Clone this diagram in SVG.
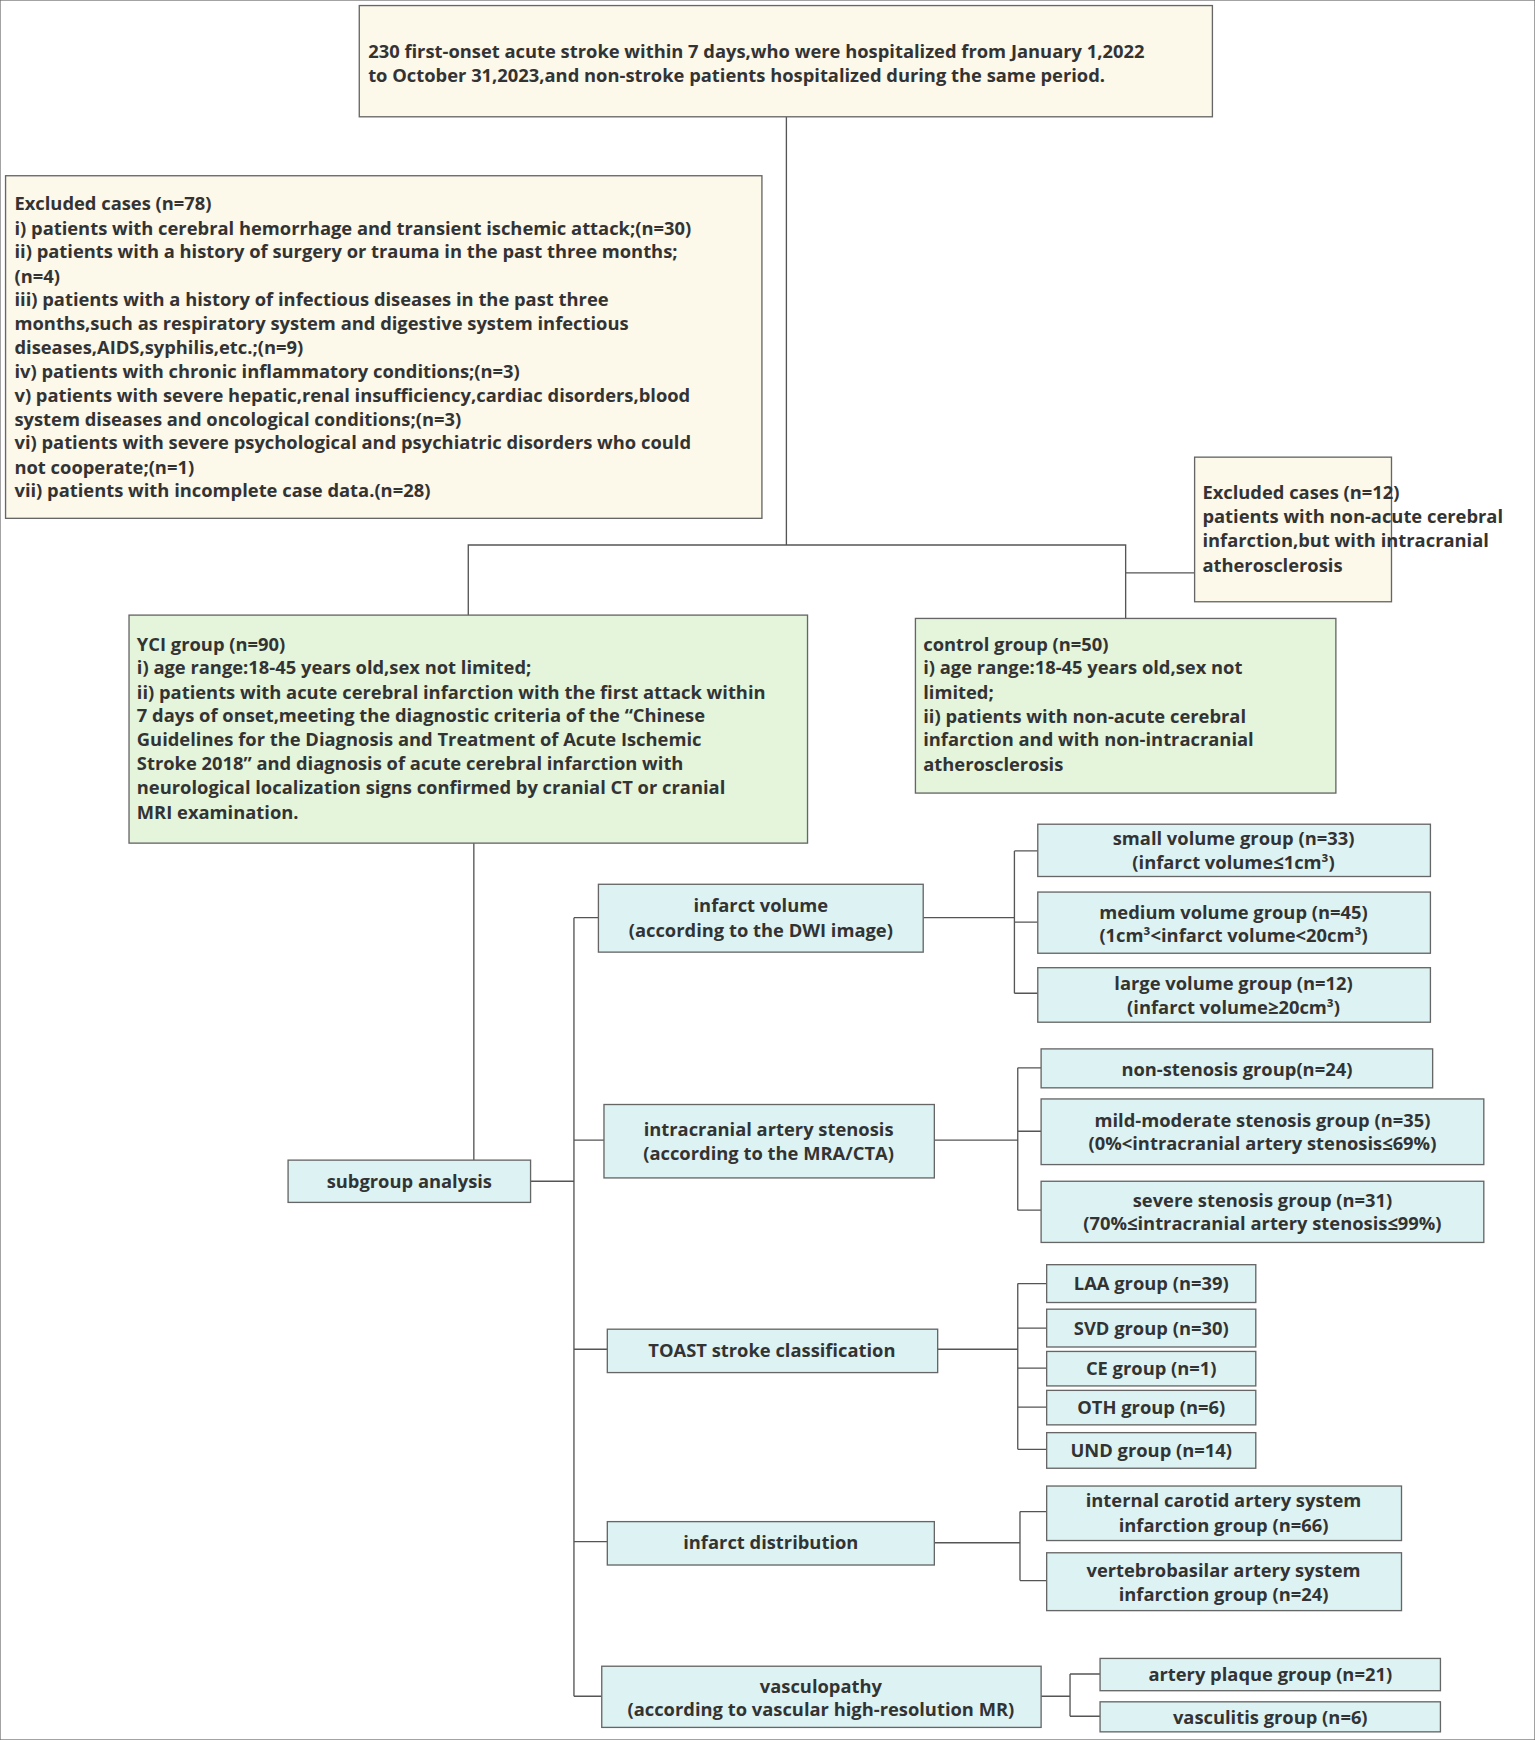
<svg xmlns="http://www.w3.org/2000/svg" width="1535" height="1740" viewBox="0 0 1535 1740">
<style>
text{font-family:"Open Sans","Noto Sans",sans-serif;font-weight:bold;font-size:16.5px;fill:#333}
.c{text-anchor:middle}
rect{stroke:#666;stroke-width:1.2}
.y{fill:#fcf8ea}.g{fill:#e4f5dc}.b{fill:#ddf3f3}
#connectors path{fill:none;stroke:#555;stroke-width:1.2}
</style>
<rect width="1535" height="1740" fill="#fff" stroke="none"/>
<g transform="scale(1.1123)">
<g id="connectors">
<path d="M707,105V490M421,555V490H1012V556M1012,515H1074"/>
<path d="M426,758V1043M477,1062H516M516,825V1525M516,825H538M516,1025H543M516,1213H546M516,1386H546M516,1525H541"/>
<path d="M830,825H912M912,765V893M912,765H933M912,829H933M912,893H933"/>
<path d="M840,1025H915M915,960V1088M915,960H936M915,1017H936M915,1088H936"/>
<path d="M843,1213H915M915,1154V1303M915,1154H941M915,1194H941M915,1230H941M915,1265H941M915,1303H941"/>
<path d="M840,1387H917M917,1359V1421M917,1359H941M917,1421H941"/>
<path d="M936,1525H962M962,1505V1543M962,1505H989M962,1543H989"/>
</g>
<g id="top"><rect class="y" x="323" y="5" width="767" height="100"/>
<text x="331" y="52">230 first-onset acute stroke within 7 days,who were hospitalized from January 1,2022</text>
<text x="331" y="74">to October 31,2023,and non-stroke patients hospitalized during the same period.</text></g>
<g id="excl78"><rect class="y" x="5" y="158" width="680" height="308"/>
<text x="13" y="189">Excluded cases (n=78)</text>
<text x="13" y="211">i) patients with cerebral hemorrhage and transient ischemic attack;(n=30)</text>
<text x="13" y="232">ii) patients with a history of surgery or trauma in the past three months;</text>
<text x="13" y="254">(n=4)</text>
<text x="13" y="275">iii) patients with a history of infectious diseases in the past three</text>
<text x="13" y="297">months,such as respiratory system and digestive system infectious</text>
<text x="13" y="318">diseases,AIDS,syphilis,etc.;(n=9)</text>
<text x="13" y="340">iv) patients with chronic inflammatory conditions;(n=3)</text>
<text x="13" y="361">v) patients with severe hepatic,renal insufficiency,cardiac disorders,blood</text>
<text x="13" y="383">system diseases and oncological conditions;(n=3)</text>
<text x="13" y="404">vi) patients with severe psychological and psychiatric disorders who could</text>
<text x="13" y="426">not cooperate;(n=1)</text>
<text x="13" y="447">vii) patients with incomplete case data.(n=28)</text></g>
<g id="excl12"><rect class="y" x="1074" y="411" width="177" height="130"/>
<text x="1081" y="449">Excluded cases (n=12)</text>
<text x="1081" y="470">patients with non-acute cerebral</text>
<text x="1081" y="492">infarction,but with intracranial</text>
<text x="1081" y="514">atherosclerosis</text></g>
<g id="yci"><rect class="g" x="116" y="553" width="610" height="205"/>
<text x="123" y="585">YCI group (n=90)</text>
<text x="123" y="606">i) age range:18-45 years old,sex not limited;</text>
<text x="123" y="628">ii) patients with acute cerebral infarction with the first attack within</text>
<text x="123" y="649">7 days of onset,meeting the diagnostic criteria of the “Chinese</text>
<text x="123" y="671">Guidelines for the Diagnosis and Treatment of Acute Ischemic</text>
<text x="123" y="692">Stroke 2018” and diagnosis of acute cerebral infarction with</text>
<text x="123" y="714">neurological localization signs confirmed by cranial CT or cranial</text>
<text x="123" y="736">MRI examination.</text></g>
<g id="control"><rect class="g" x="823" y="556" width="378" height="157"/>
<text x="830" y="585">control group (n=50)</text>
<text x="830" y="606">i) age range:18-45 years old,sex not</text>
<text x="830" y="628">limited;</text>
<text x="830" y="650">ii) patients with non-acute cerebral</text>
<text x="830" y="671">infarction  and with non-intracranial</text>
<text x="830" y="693">atherosclerosis</text></g>
<g id="subgroup"><rect class="b" x="259" y="1043" width="218" height="38"/><text class="c" x="368" y="1068">subgroup analysis</text></g>
<g id="volume"><rect class="b" x="538" y="795" width="292" height="61"/><text class="c" x="684" y="820">infarct volume</text><text class="c" x="684" y="842">(according to the DWI image)</text></g>
<g id="stenosis"><rect class="b" x="543" y="993" width="297" height="66"/><text class="c" x="691" y="1021">intracranial artery stenosis</text><text class="c" x="691" y="1043">(according to the MRA/CTA)</text></g>
<g id="toast"><rect class="b" x="546" y="1195" width="297" height="39"/><text class="c" x="694" y="1220">TOAST stroke classification</text></g>
<g id="distribution"><rect class="b" x="546" y="1368" width="294" height="39"/><text class="c" x="693" y="1393">infarct distribution</text></g>
<g id="vasculopathy"><rect class="b" x="541" y="1498" width="395" height="55"/><text class="c" x="738" y="1522">vasculopathy</text><text class="c" x="738" y="1543">(according to vascular high-resolution MR)</text></g>
<g id="v1"><rect class="b" x="933" y="741" width="353" height="47"/><text class="c" x="1109" y="760">small volume group (n=33)</text><text class="c" x="1109" y="781">(infarct volume≤1cm³)</text></g>
<g id="v2"><rect class="b" x="933" y="802" width="353" height="55"/><text class="c" x="1109" y="826">medium volume group (n=45)</text><text class="c" x="1109" y="847">(1cm³&lt;infarct volume&lt;20cm³)</text></g>
<g id="v3"><rect class="b" x="933" y="870" width="353" height="49"/><text class="c" x="1109" y="890">large volume group (n=12)</text><text class="c" x="1109" y="912">(infarct volume≥20cm³)</text></g>
<g id="s1"><rect class="b" x="936" y="943" width="352" height="35"/><text class="c" x="1112" y="967">non-stenosis group(n=24)</text></g>
<g id="s2"><rect class="b" x="936" y="988" width="398" height="59"/><text class="c" x="1135" y="1013">mild-moderate stenosis group (n=35)</text><text class="c" x="1135" y="1034">(0%&lt;intracranial artery stenosis≤69%)</text></g>
<g id="s3"><rect class="b" x="936" y="1062" width="398" height="55"/><text class="c" x="1135" y="1085">severe stenosis group (n=31)</text><text class="c" x="1135" y="1106">(70%≤intracranial artery stenosis≤99%)</text></g>
<g id="t1"><rect class="b" x="941" y="1137" width="188" height="34"/><text class="c" x="1035" y="1160">LAA group (n=39)</text></g>
<g id="t2"><rect class="b" x="941" y="1177" width="188" height="34"/><text class="c" x="1035" y="1200">SVD group (n=30)</text></g>
<g id="t3"><rect class="b" x="941" y="1215" width="188" height="31"/><text class="c" x="1035" y="1236">CE group (n=1)</text></g>
<g id="t4"><rect class="b" x="941" y="1250" width="188" height="31"/><text class="c" x="1035" y="1271">OTH group (n=6)</text></g>
<g id="t5"><rect class="b" x="941" y="1288" width="188" height="32"/><text class="c" x="1035" y="1310">UND group (n=14)</text></g>
<g id="d1"><rect class="b" x="941" y="1336" width="319" height="49"/><text class="c" x="1100" y="1355">internal carotid artery system</text><text class="c" x="1100" y="1377">infarction group (n=66)</text></g>
<g id="d2"><rect class="b" x="941" y="1396" width="319" height="52"/><text class="c" x="1100" y="1418">vertebrobasilar  artery system</text><text class="c" x="1100" y="1439">infarction group (n=24)</text></g>
<g id="p1"><rect class="b" x="989" y="1491" width="306" height="29"/><text class="c" x="1142" y="1511">artery plaque group (n=21)</text></g>
<g id="p2"><rect class="b" x="989" y="1530" width="306" height="27"/><text class="c" x="1142" y="1550">vasculitis group (n=6)</text></g>
</g>
</svg>
